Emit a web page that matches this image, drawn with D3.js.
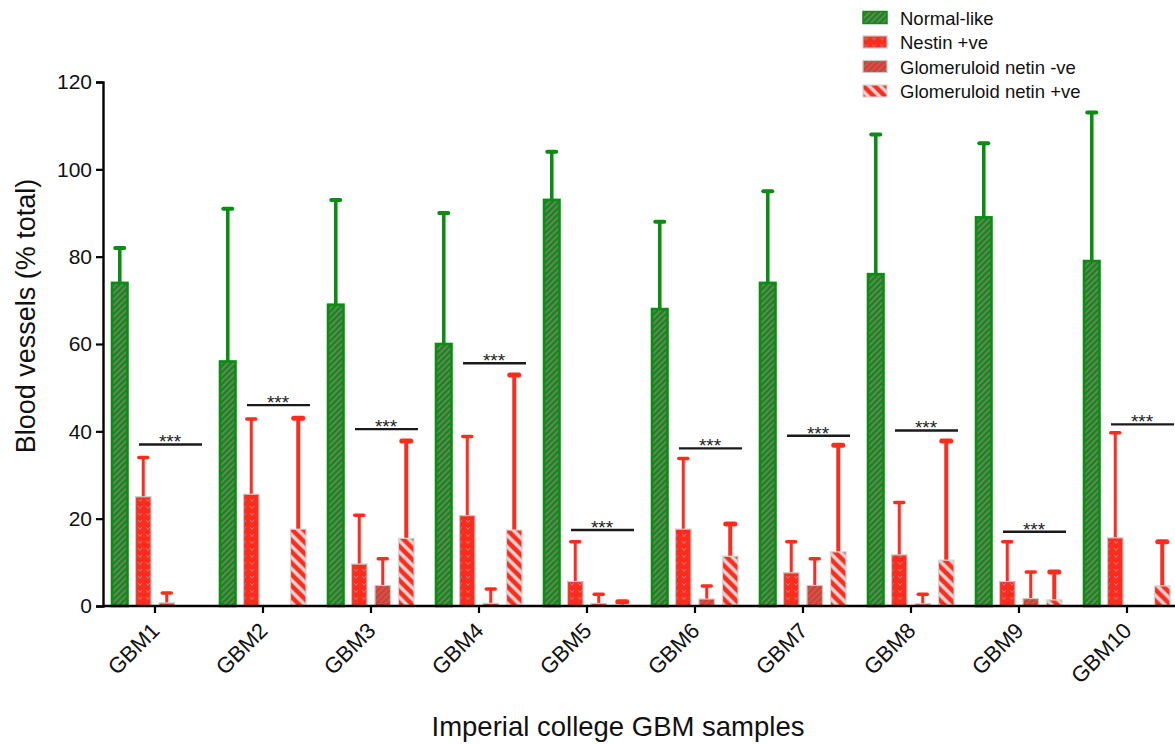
<!DOCTYPE html>
<html>
<head>
<meta charset="utf-8">
<script src="https://cdn.jsdelivr.net/npm/d3@7"></script>
<style>
  html, body { margin: 0; padding: 0; background: #fff; }
  svg { display: block; font-family: Arial, "Liberation Sans", Helvetica, sans-serif; }
</style>
</head>
<body>
<svg id="chart" width="1175" height="744"></svg>
<script>
// Samples and groups
const categories = ["GBM1", "GBM2", "GBM3", "GBM4", "GBM5", "GBM6", "GBM7", "GBM8", "GBM9", "GBM10"];
const seriesNames = ["Normal-like", "Nestin +ve", "Glomeruloid netin -ve", "Glomeruloid netin +ve"];

// Mean % of total blood vessels and error (upper whisker length)
const normalMean = [74, 56, 69, 60, 93, 68, 74, 76, 89, 79];
const normalErr  = [8, 35, 24, 30, 11, 20, 21, 32, 17, 34];
const nestinMean = [25, 25.6, 9.6, 20.7, 5.6, 17.6, 7.6, 11.7, 5.6, 15.6];
const nestinErr  = [9, 17.2, 11.2, 18.1, 9.1, 16.2, 7.1, 12, 9.1, 24.1];
const glomNegMean = [0.7, 0, 4.7, 0.6, 0.6, 1.6, 4.7, 0.5, 1.7, 0];
const glomNegErr  = [2.3, 0, 6.1, 3.3, 2.1, 3.0, 6.1, 2.2, 6.1, 0];
const glomPosMean = [0, 17.6, 15.5, 17.4, 0.2, 11.4, 12.4, 10.5, 1.4, 4.6];
const glomPosErr  = [0, 25.4, 22.3, 35.5, 0.8, 7.4, 24.4, 27.3, 6.4, 10.1];

// Height of the significance bar in each sample
const sigLevel = [37, 46, 40.5, 55.6, 17.4, 36.1, 39, 40.2, 17, 41.6];
const sigLabel = "***";

const yTicks = [0, 20, 40, 60, 80, 100, 120];

const RED = "#ff2b1c";
const GREEN = "#0b8c12";

const means = [normalMean, nestinMean, glomNegMean, glomPosMean];
const errs = [normalErr, nestinErr, glomNegErr, glomPosErr];

const svg = d3.select("#chart");
const defs = svg.append("defs");

// Fill patterns for the four series
function stripes(id, bg, fg, size, width, angle) {
  const p = defs.append("pattern")
    .attr("id", id)
    .attr("patternUnits", "userSpaceOnUse")
    .attr("width", size).attr("height", size)
    .attr("patternTransform", `rotate(${angle})`);
  p.append("rect").attr("width", size).attr("height", size).attr("fill", bg);
  p.append("line")
    .attr("x1", size / 2).attr("x2", size / 2)
    .attr("y1", 0).attr("y2", size)
    .attr("stroke", fg).attr("stroke-width", width);
}
stripes("pat-normal", GREEN, "#7d7f6e", 4.2, 1.7, 45);
stripes("pat-gneg", RED, "#8a7672", 4.2, 1.7, 45);
stripes("pat-gpos", RED, "#dadada", 8, 3.4, -45);
(function () {
  const p = defs.append("pattern")
    .attr("id", "pat-nestin")
    .attr("patternUnits", "userSpaceOnUse")
    .attr("width", 8).attr("height", 7);
  p.append("rect").attr("width", 8).attr("height", 7).attr("fill", RED);
  p.append("path").attr("d", "M2.2,2 L4,4.5 L5.8,2")
    .attr("fill", "none").attr("stroke", "#9a8a86").attr("stroke-width", 1);
})();

const fills = ["url(#pat-normal)", "url(#pat-nestin)", "url(#pat-gneg)", "url(#pat-gpos)"];
const outlines = [GREEN, "#c9c9c9", "#c9c9c9", "#d4d4d4"];
const outlineW = [2.6, 1.2, 1.2, 1.2];
const errColor = [GREEN, RED, RED, RED];
const errW = [3.6, 3, 3, 4];
const capW = [4, 3.5, 3.5, 5];

// Scales
const x = d3.scaleBand().domain(categories).range([101, 1181]).padding(0);
const xs = d3.scaleBand().domain(seriesNames).range([-47, 47]).padding(0);
const y = d3.scaleLinear().domain([0, 120]).range([606, 82]);
const barW = 15.5;

const cx = (c) => x(c) + x.bandwidth() / 2;

// Build row records
const records = [];
categories.forEach((c, i) => {
  seriesNames.forEach((s, k) => {
    records.push({ cat: c, ser: s, k, mean: means[k][i], err: errs[k][i] });
  });
});

const plot = svg.append("g");

// Error bars (upper whisker only)
const eb = plot.selectAll("g.err").data(records.filter(d => d.err > 0)).join("g").attr("class", "err");
eb.append("line")
  .attr("x1", d => cx(d.cat) + xs(d.ser) + xs.bandwidth() / 2)
  .attr("x2", d => cx(d.cat) + xs(d.ser) + xs.bandwidth() / 2)
  .attr("y1", d => y(d.mean))
  .attr("y2", d => y(d.mean + d.err))
  .attr("stroke", d => errColor[d.k])
  .attr("stroke-width", d => errW[d.k]);
eb.append("line")
  .attr("x1", d => cx(d.cat) + xs(d.ser) + xs.bandwidth() / 2 - 4.5)
  .attr("x2", d => cx(d.cat) + xs(d.ser) + xs.bandwidth() / 2 + 4.5)
  .attr("y1", d => y(d.mean + d.err))
  .attr("y2", d => y(d.mean + d.err))
  .attr("stroke", d => errColor[d.k])
  .attr("stroke-width", d => capW[d.k])
  .attr("stroke-linecap", "round");

// Bars
plot.selectAll("rect.bar").data(records.filter(d => d.mean > 0)).join("rect")
  .attr("class", "bar")
  .attr("x", d => cx(d.cat) + xs(d.ser) + xs.bandwidth() / 2 - barW / 2)
  .attr("width", barW)
  .attr("y", d => y(d.mean))
  .attr("height", d => y(0) - y(d.mean))
  .attr("fill", d => fills[d.k])
  .attr("stroke", d => outlines[d.k])
  .attr("stroke-width", d => outlineW[d.k]);

// Significance brackets
const sig = plot.selectAll("g.sig").data(categories).join("g").attr("class", "sig");
sig.append("line")
  .attr("x1", c => cx(c) - 16)
  .attr("x2", c => cx(c) + 47)
  .attr("y1", (c, i) => y(sigLevel[i]))
  .attr("y2", (c, i) => y(sigLevel[i]))
  .attr("stroke", "#1a1a1a").attr("stroke-width", 2.4);
sig.append("text")
  .attr("x", c => cx(c) + 15)
  .attr("y", (c, i) => y(sigLevel[i]) + 4)
  .attr("text-anchor", "middle")
  .attr("font-size", 19)
  .attr("fill", "#222")
  .text(sigLabel);

// Y axis
const yAxis = svg.append("g")
  .attr("transform", "translate(103,0)")
  .call(d3.axisLeft(y).tickValues(yTicks).tickSize(7).tickPadding(4));
yAxis.select(".domain").attr("stroke", "#000").attr("stroke-width", 2.4);
yAxis.selectAll(".tick line").attr("stroke", "#000").attr("stroke-width", 2.2);
yAxis.selectAll(".tick text").attr("font-size", 21).attr("fill", "#111")
  .attr("font-family", "Arial, 'Liberation Sans', sans-serif");

// X axis
const xAxis = svg.append("g")
  .attr("transform", "translate(0,606)")
  .call(d3.axisBottom(x).tickSize(7).tickSizeOuter(0).tickPadding(4));
xAxis.select(".domain").attr("d", "M103,0H1180").attr("stroke", "#000").attr("stroke-width", 2.4);
xAxis.selectAll(".tick line").attr("stroke", "#000").attr("stroke-width", 2.2);
xAxis.selectAll(".tick text")
  .attr("font-size", 22).attr("fill", "#111")
  .attr("font-family", "Arial, 'Liberation Sans', sans-serif")
  .attr("text-anchor", "end")
  .attr("dy", null)
  .attr("y", 0)
  .attr("transform", "translate(6,26) rotate(-45)");

// Axis titles
svg.append("text")
  .attr("transform", "translate(35,316) rotate(-90)")
  .attr("text-anchor", "middle")
  .attr("font-size", 27)
  .attr("fill", "#111")
  .text("Blood vessels (% total)");
svg.append("text")
  .attr("x", 618).attr("y", 736)
  .attr("text-anchor", "middle")
  .attr("font-size", 27.5)
  .attr("fill", "#111")
  .text("Imperial college GBM samples");

// Legend
const legend = svg.append("g").attr("transform", "translate(862,0)");
const legRows = legend.selectAll("g").data(seriesNames).join("g")
  .attr("transform", (d, i) => `translate(0,${11 + i * 24.5})`);
legRows.append("rect")
  .attr("x", 1).attr("y", 0.5)
  .attr("width", 24).attr("height", 12)
  .attr("fill", (d, i) => fills[i])
  .attr("stroke", (d, i) => outlines[i])
  .attr("stroke-width", (d, i) => i === 0 ? 1.5 : 1.2);
legRows.append("text")
  .attr("x", 38).attr("y", 13.5)
  .attr("font-size", 18.5)
  .attr("fill", "#111")
  .text(d => d);
</script>
</body>
</html>
